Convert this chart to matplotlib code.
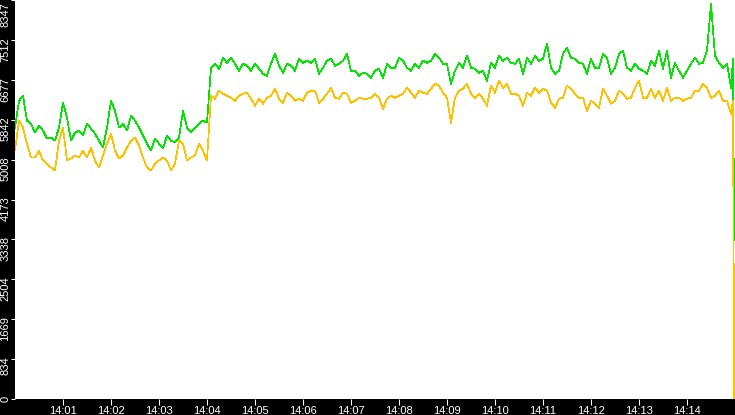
"""
plot.py
Two throughput series (green / amber) on a black frame, 14:00 - 14:15.
"""
import numpy as np
import matplotlib
matplotlib.use("Agg")
import matplotlib.pyplot as plt
from matplotlib.transforms import ScaledTranslation

plt.rcParams["font.family"] = ["Liberation Sans", "DejaVu Sans"]

# --------------------------- data -----------------------------------------
# regular samples every 5 s from 14:00:00, then the last two readings
# just before 14:15 (the counter collapses in the final second)
STEP_S = 5
TAIL_T = [897.5, 899.0]

GREEN = [
    5677, 6240, 6344, 5823, 5760, 5572, 5718, 5614, 5447, 5468,
    5405, 5677, 6198, 5885, 5405, 5572, 5614, 5510, 5760, 5656,
    5551, 5405, 5259, 5677, 6240, 6031, 5677, 5760, 5614, 5927,
    5823, 5677, 5510, 5343, 5197, 5447, 5343, 5238, 5510, 5405,
    5364, 5468, 6031, 5677, 5572, 5677, 5760, 5823, 5781,
    6929, 7012, 6908, 7138, 7033, 7138, 7012, 6866, 7012, 6971,
    6866, 7012, 6908, 6804, 6762, 7012, 7221, 6971, 6824, 7012,
    6971, 6866, 7117, 7033, 7075, 7033, 7117, 6804, 6929, 7075,
    7117, 6971, 7012, 7075, 7221, 6866, 6866, 6762, 6824, 6804,
    6720, 6866, 6908,
    6720, 7012, 6929, 6929, 7138, 7075, 6929, 6866, 7012, 6929,
    7075, 7033, 7075, 7221, 7138, 7012, 7012, 6595, 6866, 7033,
    6929, 7179, 6929, 6908, 6824, 6866, 6658, 7033, 6929, 7179,
    7075, 7138, 7033, 7012, 7117, 6804, 7138, 7012, 7179, 7075,
    7117, 7430, 6929, 6804, 6866,
    7221, 7346, 7138, 7117, 7033, 7012, 6804, 7117, 6929, 6929,
    7221, 7138, 6804, 6929, 7221, 7284, 6929, 6866, 7012, 6908,
    6866, 6804, 7075, 6971, 7284, 6908, 7284, 6720, 7033, 6866,
    6720, 6866, 7012, 7138, 7012, 7033, 7284, 8265, 7179, 7033,
    6929, 7012, 6511,
]
GREEN_TAIL = [7117, 3318]

AMBER = [
    5197, 5823, 5677, 5343, 5051, 5051, 5197, 4988, 4925, 4842,
    4779, 5405, 5677, 4988, 5030, 5092, 5051, 5197, 5051, 5259,
    4988, 4842, 5092, 5343, 5551, 5197, 5030, 5092, 5259, 5405,
    5468, 5301, 5051, 4842, 4779, 4925, 4988, 5051, 4988, 4779,
    4925, 5405, 5343, 4988, 5051, 5092, 5343, 5197, 4988,
    6344, 6282, 6449, 6386, 6344, 6303, 6240, 6344, 6386, 6407,
    6282, 6136, 6282, 6178, 6303, 6344, 6491, 6282, 6198, 6407,
    6344, 6240, 6282, 6240, 6407, 6449, 6449, 6198, 6282, 6386,
    6511, 6303, 6282, 6407, 6386, 6198, 6240, 6303, 6282, 6282,
    6303, 6386, 6303,
    6073, 6282, 6344, 6303, 6344, 6386, 6511, 6407, 6303, 6449,
    6407, 6386, 6491, 6595, 6553, 6407, 6303, 5781, 6303, 6449,
    6491, 6595, 6386, 6303, 6386, 6282, 6136, 6553, 6407, 6658,
    6511, 6595, 6386, 6386, 6344, 6136, 6407, 6344, 6511, 6407,
    6491, 6449, 6198, 6094, 6282,
    6303, 6553, 6491, 6386, 6303, 6303, 6031, 6240, 6178, 6094,
    6491, 6344, 6178, 6240, 6449, 6386, 6282, 6303, 6511, 6658,
    6303, 6303, 6491, 6303, 6449, 6240, 6511, 6240, 6303, 6303,
    6240, 6282, 6303, 6449, 6449, 6595, 6511, 6303, 6344, 6449,
    6240, 6240, 5969,
]
AMBER_TAIL = [6240, 0]

Y_TICKS = [0, 834, 1669, 2504, 3338, 4173, 5008, 5842, 6677, 7512, 8347]
X_TICKS = [60, 120, 180, 240, 300, 360, 420, 480, 540, 600, 660, 720, 780, 840]
X_LABELS = ["14:01", "14:02", "14:03", "14:04", "14:05", "14:06", "14:07",
            "14:08", "14:09", "14:10", "14:11", "14:12", "14:13", "14:14"]

GREEN_C = "#00e600"
AMBER_C = "#ffc000"
PX = 0.72  # one pixel in points at dpi 100


def series(values, tail):
    t = np.concatenate([np.arange(len(values)) * STEP_S, TAIL_T])
    return t, np.array(list(values) + list(tail), dtype=float)


def main():
    fig = plt.figure(figsize=(7.35, 4.15), dpi=100, facecolor="black")
    ax = fig.add_axes([15 / 735, 16 / 415, 720 / 735, 399 / 415])
    ax.set_facecolor("white")

    t, y = series(GREEN, GREEN_TAIL)
    ax.plot(t, y, color=GREEN_C, lw=0.5, antialiased=False)
    t, y = series(AMBER, AMBER_TAIL)
    ax.plot(t, y, color=AMBER_C, lw=0.5, antialiased=False)

    ax.set_xlim(0, 900)
    ax.set_ylim(0, 8347)
    for s in ax.spines.values():
        s.set_visible(False)

    ax.set_xticks(X_TICKS)
    ax.set_xticklabels(X_LABELS)
    ax.set_yticks(Y_TICKS)
    ax.set_yticklabels([str(v) for v in Y_TICKS])
    ax.tick_params(axis="x", colors="white", length=6 * PX, width=PX,
                   pad=0.5, labelsize=8)
    ax.tick_params(axis="y", colors="white", length=4 * PX, width=PX,
                   pad=0.3, labelsize=8)

    # rotated y labels hang down from their tick, slightly above it
    up = ScaledTranslation(0, 3 / 100, fig.dpi_scale_trans)
    down = ScaledTranslation(0, -2 / 100, fig.dpi_scale_trans)
    labels = ax.get_yticklabels()
    for i, lbl in enumerate(labels):
        lbl.set_rotation(90)
        lbl.set_va("top")
        off = down if i == len(labels) - 1 else up
        lbl.set_transform(lbl.get_transform() + off)

    fig.savefig("out.png", dpi=100, facecolor="black")
    plt.close(fig)


if __name__ == "__main__":
    main()
